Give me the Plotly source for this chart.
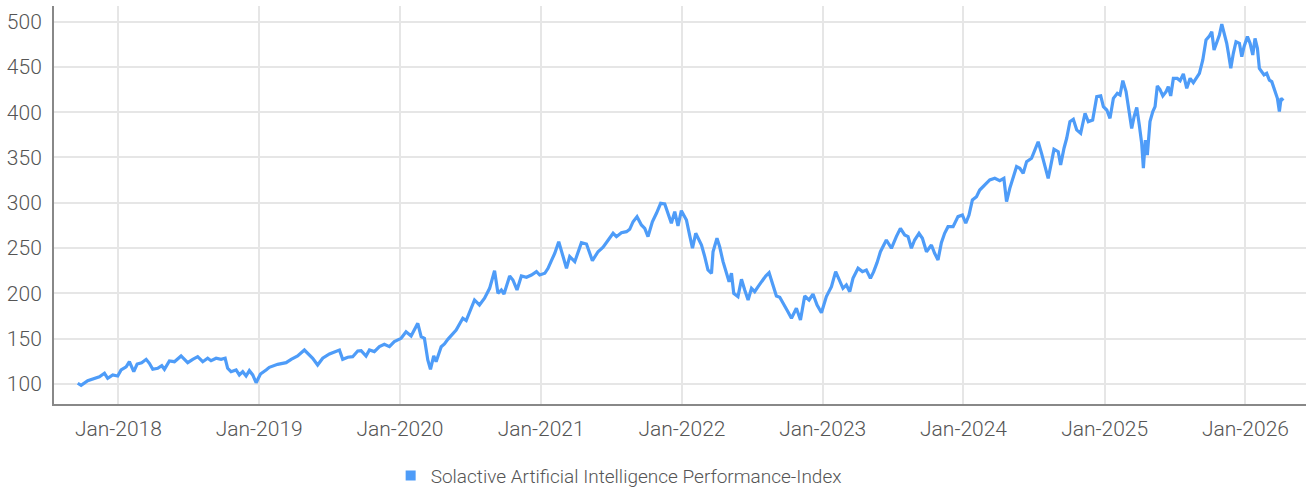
import pandas as pd
import plotly.graph_objects as go

# Time of each reading, as a decimal year
years = [
    2017.711, 2017.735, 2017.782, 2017.830, 2017.865, 2017.901, 2017.924, 2017.960, 2017.995,
    2018.019, 2018.055, 2018.078, 2018.109, 2018.133, 2018.165, 2018.197, 2018.220, 2018.244,
    2018.279, 2018.308, 2018.327, 2018.362, 2018.398, 2018.445, 2018.492, 2018.528, 2018.563,
    2018.599, 2018.634, 2018.658, 2018.694, 2018.729, 2018.758, 2018.776, 2018.800, 2018.836,
    2018.859, 2018.883, 2018.907, 2018.930, 2018.954, 2018.978, 2019.009, 2019.049,
    2019.072, 2019.131, 2019.191, 2019.227, 2019.273, 2019.321, 2019.344, 2019.380, 2019.415,
    2019.451, 2019.499, 2019.546, 2019.570, 2019.593, 2019.629, 2019.664, 2019.700, 2019.724,
    2019.759, 2019.783, 2019.818, 2019.854, 2019.889, 2019.925, 2019.960,
    2020.008, 2020.043, 2020.079, 2020.126, 2020.150, 2020.173, 2020.197, 2020.216, 2020.239,
    2020.256, 2020.292, 2020.315, 2020.339, 2020.374, 2020.398, 2020.445, 2020.469, 2020.528,
    2020.563, 2020.599, 2020.635, 2020.670, 2020.694, 2020.718, 2020.737, 2020.777, 2020.800,
    2020.829, 2020.860, 2020.896, 2020.931, 2020.967, 2020.990,
    2021.026, 2021.049, 2021.073, 2021.097, 2021.125, 2021.156, 2021.180, 2021.203, 2021.239,
    2021.286, 2021.322, 2021.364, 2021.404, 2021.440, 2021.475, 2021.511, 2021.535, 2021.570,
    2021.606, 2021.629, 2021.653, 2021.681, 2021.712, 2021.736, 2021.759, 2021.790, 2021.819,
    2021.849, 2021.878, 2021.901, 2021.925, 2021.949, 2021.972, 2021.996,
    2022.032, 2022.055, 2022.075, 2022.098, 2022.122, 2022.139, 2022.162, 2022.185, 2022.210,
    2022.221, 2022.249, 2022.268, 2022.292, 2022.316, 2022.335, 2022.352, 2022.368, 2022.398,
    2022.423, 2022.446, 2022.470, 2022.494, 2022.517, 2022.541, 2022.565, 2022.595, 2022.619,
    2022.643, 2022.671, 2022.695, 2022.723, 2022.746, 2022.778, 2022.813, 2022.842, 2022.872,
    2022.903, 2022.931, 2022.960, 2022.991,
    2023.026, 2023.062, 2023.092, 2023.121, 2023.144, 2023.168, 2023.192, 2023.215, 2023.251,
    2023.282, 2023.310, 2023.339, 2023.362, 2023.386, 2023.410, 2023.452, 2023.488, 2023.523,
    2023.552, 2023.582, 2023.606, 2023.630, 2023.653, 2023.684, 2023.708, 2023.737, 2023.772,
    2023.795, 2023.819, 2023.843, 2023.866, 2023.890, 2023.926, 2023.961, 2023.992,
    2024.016, 2024.039, 2024.063, 2024.092, 2024.115, 2024.151, 2024.186, 2024.222, 2024.257,
    2024.286, 2024.305, 2024.328, 2024.352, 2024.376, 2024.399, 2024.423, 2024.447, 2024.482,
    2024.506, 2024.529, 2024.553, 2024.577, 2024.600, 2024.617, 2024.641, 2024.671, 2024.688,
    2024.712, 2024.731, 2024.754, 2024.778, 2024.802, 2024.830, 2024.861, 2024.884, 2024.915,
    2024.944, 2024.972, 2024.991,
    2025.015, 2025.038, 2025.062, 2025.090, 2025.109, 2025.129, 2025.152, 2025.175, 2025.192,
    2025.209, 2025.228, 2025.246, 2025.263, 2025.275, 2025.289, 2025.303, 2025.322, 2025.342,
    2025.358, 2025.374, 2025.393, 2025.413, 2025.436, 2025.452, 2025.469, 2025.488, 2025.516,
    2025.536, 2025.559, 2025.583, 2025.607, 2025.630, 2025.654, 2025.673, 2025.697, 2025.720,
    2025.744, 2025.761, 2025.777, 2025.796, 2025.815, 2025.832, 2025.848, 2025.867, 2025.879,
    2025.896, 2025.914, 2025.933, 2025.957, 2025.974, 2025.990,
    2026.014, 2026.033, 2026.052, 2026.068, 2026.085, 2026.099, 2026.116, 2026.132, 2026.151,
    2026.170, 2026.187, 2026.203, 2026.217, 2026.227, 2026.241, 2026.253, 2026.269,
]

# Index level at each reading
index_values = [
    100.8, 98.5, 103.7, 106.3, 108.0, 111.8, 106.3, 110.0, 108.8,
    115.5, 119.0, 124.6, 113.6, 122.0, 123.5, 127.2, 122.8, 116.2,
    117.3, 120.2, 116.2, 125.4, 124.6, 130.9, 123.5, 127.2, 130.1,
    124.6, 128.4, 125.7, 128.4, 127.2, 128.4, 117.3, 113.6, 115.5,
    110.0, 113.6, 108.8, 114.7, 110.0, 101.4, 111.0, 115.5,
    118.4, 121.7, 123.5, 127.2, 130.9, 137.5, 133.9, 128.4, 121.0,
    128.4, 133.1, 135.7, 137.5, 127.2, 129.5, 130.1, 136.4, 136.8,
    130.9, 137.5, 135.7, 141.2, 143.8, 141.2, 146.7,
    150.4, 157.7, 153.0, 167.0, 152.2, 150.4, 126.5, 116.2, 130.9,
    124.6, 141.2, 144.2, 149.3, 155.9, 159.6, 172.5, 169.9, 192.7,
    187.2, 194.6, 205.6, 225.0, 200.1, 203.8, 199.3, 219.2, 214.8,
    203.8, 219.2, 217.8, 220.3, 224.0, 220.3,
    222.2, 227.7, 236.1, 244.3, 257.1, 240.6, 227.7, 240.6, 235.0,
    256.0, 254.5, 236.1, 246.0, 250.9, 258.9, 266.3, 262.6, 267.0,
    268.1, 270.7, 279.1, 284.7, 275.5, 271.8, 262.6, 279.1, 288.4,
    299.4, 298.7, 288.4, 277.4, 290.3, 274.4, 291.3,
    281.0, 264.0, 249.8, 266.3, 258.9, 253.4, 240.6, 225.8, 222.2,
    246.0, 260.8, 251.5, 235.0, 222.2, 212.9, 222.2, 200.1, 196.4,
    215.5, 203.8, 192.7, 205.6, 201.9, 207.4, 212.9, 219.2, 222.8,
    211.8, 197.1, 195.7, 187.2, 181.7, 172.5, 183.6, 170.6, 197.1,
    192.7, 199.3, 187.2, 178.7,
    196.4, 207.4, 224.0, 214.8, 205.6, 209.3, 201.9, 216.6, 227.7,
    224.0, 225.8, 216.6, 224.0, 233.9, 246.0, 258.9, 249.8, 262.6,
    271.8, 264.5, 262.6, 249.8, 258.9, 266.3, 260.8, 246.0, 253.4,
    244.3, 236.9, 256.0, 266.3, 273.6, 273.6, 284.7, 286.5,
    277.4, 286.5, 303.1, 306.7, 314.1, 319.6, 325.2, 327.0, 324.4,
    327.0, 301.2, 315.9, 328.9, 339.9, 338.1, 332.5, 345.4, 349.1,
    358.3, 367.4, 354.5, 339.9, 327.0, 339.9, 359.0, 356.4, 341.7,
    360.2, 371.2, 389.6, 392.2, 380.4, 376.7, 398.8, 389.6, 391.4,
    417.1, 417.9, 406.1,
    402.4, 393.2, 415.3, 420.8, 419.0, 434.8, 422.7, 400.6, 382.0,
    395.0, 405.3, 385.9, 365.6, 338.1, 369.3, 352.7, 389.6, 400.6,
    406.1, 428.9, 424.9, 417.9, 422.7, 428.1, 417.9, 437.3, 437.3,
    434.8, 442.2, 426.4, 437.3, 432.5, 439.1, 442.8, 457.6, 479.7,
    484.1, 488.8, 468.7, 476.0, 485.2, 497.3, 488.8, 476.0, 465.0,
    448.4, 465.0, 477.8, 476.0, 461.3, 472.3,
    483.4, 476.0, 463.1, 481.5, 470.5, 448.4, 444.7, 441.1, 442.8,
    435.4, 433.7, 426.4, 420.8, 415.3, 400.6, 415.3, 412.8,
]

series_name = "Solactive Artificial Intelligence Performance-Index"
y_ticks = [100, 150, 200, 250, 300, 350, 400, 450, 500]


def to_date(y):
    yr = int(y)
    start = pd.Timestamp(year=yr, month=1, day=1)
    end = pd.Timestamp(year=yr + 1, month=1, day=1)
    return start + (end - start) * (y - yr)


dates = [to_date(y) for y in years]

LINE = "#4e9cf8"
FONT = "Roboto, sans-serif"
TXT = "#555555"
tfont = dict(family=FONT, size=21, color=TXT, weight=300)

fig = go.Figure()
fig.add_trace(go.Scatter(
    x=dates, y=index_values, mode="lines",
    line=dict(color=LINE, width=3.2), showlegend=False, name=series_name,
))
fig.add_trace(go.Scatter(
    x=[None], y=[None], mode="markers", name=series_name,
    marker=dict(symbol="square", size=10, color=LINE), showlegend=True,
))

fig.update_layout(
    width=1306, height=491,
    margin=dict(l=54, r=0, t=6, b=87, autoexpand=False),
    paper_bgcolor="white", plot_bgcolor="white",
    font=tfont,
    legend=dict(orientation="h", x=0.451, xanchor="center", y=-0.18, yanchor="middle",
                font=dict(family=FONT, size=19, color=TXT, weight=300), itemwidth=30),
    xaxis=dict(
        type="date", range=["2017-07-18", "2026-06-07"],
        tick0="2018-01-01", dtick="M12", tickformat="%b-%Y",
        showgrid=True, gridcolor="#e6e6e6", gridwidth=2,
        showline=True, linecolor="#888888", linewidth=2,
        ticks="", zeroline=False, ticklabelstandoff=5, automargin=False,
        tickfont=tfont,
    ),
    yaxis=dict(
        range=[77.9, 517.2], tickvals=y_ticks,
        showgrid=True, gridcolor="#e6e6e6", gridwidth=2,
        showline=True, linecolor="#888888", linewidth=2,
        ticks="", zeroline=False, ticklabelstandoff=6, automargin=False,
        tickfont=tfont,
    ),
)

fig.write_html("out.html", config={"displayModeBar": False},
               post_script="document.body.style.margin='0';")
